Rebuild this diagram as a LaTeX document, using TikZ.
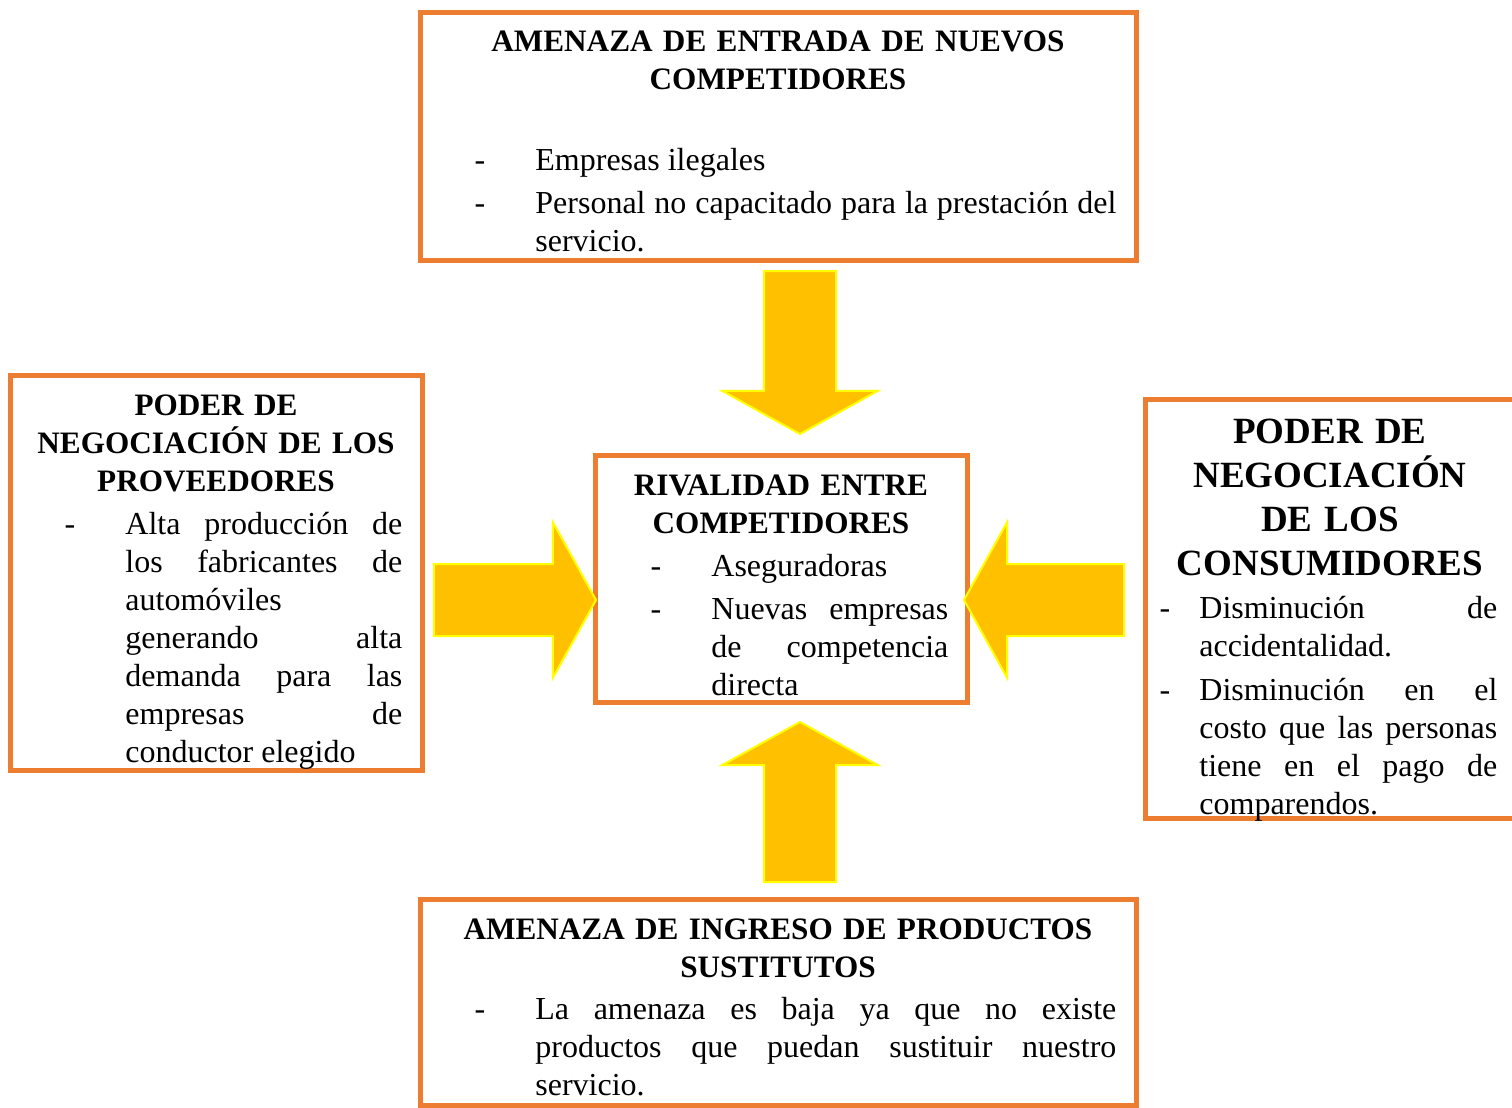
\documentclass[tikz,border=0pt]{standalone}
\usepackage{fontspec}
\setmainfont{Liberation Serif}
\usepackage{tikz}
\usetikzlibrary{shapes.arrows}
\definecolor{naranja}{HTML}{ED7D31}
\definecolor{ambar}{HTML}{FFC000}
\definecolor{amarillo}{HTML}{FFFF00}
\hyphenpenalty=10000
\exhyphenpenalty=10000
\tolerance=9999

\begin{document}
\begin{tikzpicture}[x=0.5pt, y=-0.5pt,
  caja/.style={draw=naranja, line width=2.5pt, inner sep=0pt},
  flecha/.style={single arrow, fill=ambar, draw=amarillo, line width=1pt,
    inner xsep=0pt, inner ysep=17.5pt, single arrow head extend=21pt,
    single arrow tip angle=122, anchor=tail},
  titulo/.style={font=\bfseries\fontsize{15.6}{19}\selectfont, align=center, anchor=base, inner sep=0pt},
  cuerpo/.style={font=\fontsize{16}{19}\selectfont, align=justify, anchor=base west, inner sep=0pt},
  guion/.style={font=\fontsize{16}{19}\selectfont, anchor=base, inner sep=0pt}]
  \useasboundingbox (0,0) rectangle (1512,1108);

  \node[caja, minimum width=358pt, minimum height=124pt] (nuevos) at (778.5,136.5) {};
  \node[caja, minimum width=206pt, minimum height=197.5pt] (proveedores) at (216.5,573) {};
  \node[caja, minimum width=186pt, minimum height=123.5pt] (rivalidad) at (781.5,579) {};
  \node[caja, minimum width=184.25pt, minimum height=209.5pt] (consumidores) at (1329.75,609) {};
  \node[caja, minimum width=358pt, minimum height=103pt] (sustitutos) at (778.5,1002.5) {};

  \node[flecha, minimum height=81.5pt, rotate=-90] (flechaN) at (800,270) {};
  \node[flecha, minimum height=80pt, rotate=90] (flechaS) at (800,883) {};
  \node[flecha, minimum height=81pt] (flechaO) at (433,600) {};
  \node[flecha, minimum height=80pt, rotate=180] (flechaE) at (1125,600) {};

  \node[titulo, text width=350pt] (tituloNuevos) at (778,52) {AMENAZA DE ENTRADA DE NUEVOS\\COMPETIDORES};
  \node[guion] (guionN1) at (480,170) {-};
  \node[cuerpo, text width=290.5pt] (textoN1) at (535,170) {Empresas ilegales};
  \node[guion] (guionN2) at (480,213) {-};
  \node[cuerpo, text width=290.5pt] (textoN2) at (535,213) {Personal no capacitado para la prestación del\linebreak servicio.};

  \node[titulo, text width=200pt] (tituloProv) at (216,415) {PODER DE\\NEGOCIACIÓN DE LOS\\PROVEEDORES};
  \node[guion] (guionP1) at (70,534) {-};
  \node[cuerpo, text width=138.5pt] (textoP1) at (125,534) {Alta producción de\linebreak los fabricantes de\linebreak automóviles\newline generando alta\linebreak demanda para las\linebreak empresas de\linebreak conductor elegido};

  \node[titulo, text width=180pt] (tituloRiv) at (781,495) {RIVALIDAD ENTRE\\COMPETIDORES};
  \node[guion] (guionR1) at (656,576) {-};
  \node[cuerpo, text width=118.5pt] (textoR1) at (711,576) {Aseguradoras};
  \node[guion] (guionR2) at (656,619) {-};
  \node[cuerpo, text width=118.5pt] (textoR2) at (711,619) {Nuevas empresas\linebreak de competencia\linebreak directa};

  \node[titulo, font=\bfseries\fontsize{18.5}{22}\selectfont, text width=180pt] (tituloCons) at (1330,443) {PODER DE\\NEGOCIACIÓN\\DE LOS\\CONSUMIDORES};
  \node[guion] (guionC1) at (1165,618) {-};
  \node[cuerpo, text width=149pt] (textoC1) at (1199,618) {Disminución de\linebreak accidentalidad.};
  \node[guion] (guionC2) at (1165,700) {-};
  \node[cuerpo, text width=149pt] (textoC2) at (1199,700) {Disminución en el\linebreak costo que las personas\linebreak tiene en el pago de\linebreak comparendos.};

  \node[titulo, text width=350pt] (tituloSust) at (778,939) {AMENAZA DE INGRESO DE PRODUCTOS\\SUSTITUTOS};
  \node[guion] (guionS1) at (480,1019) {-};
  \node[cuerpo, text width=290.5pt] (textoS1) at (535,1019) {La amenaza es baja ya que no existe\linebreak productos que puedan sustituir nuestro\linebreak servicio.};
\end{tikzpicture}
\end{document}
